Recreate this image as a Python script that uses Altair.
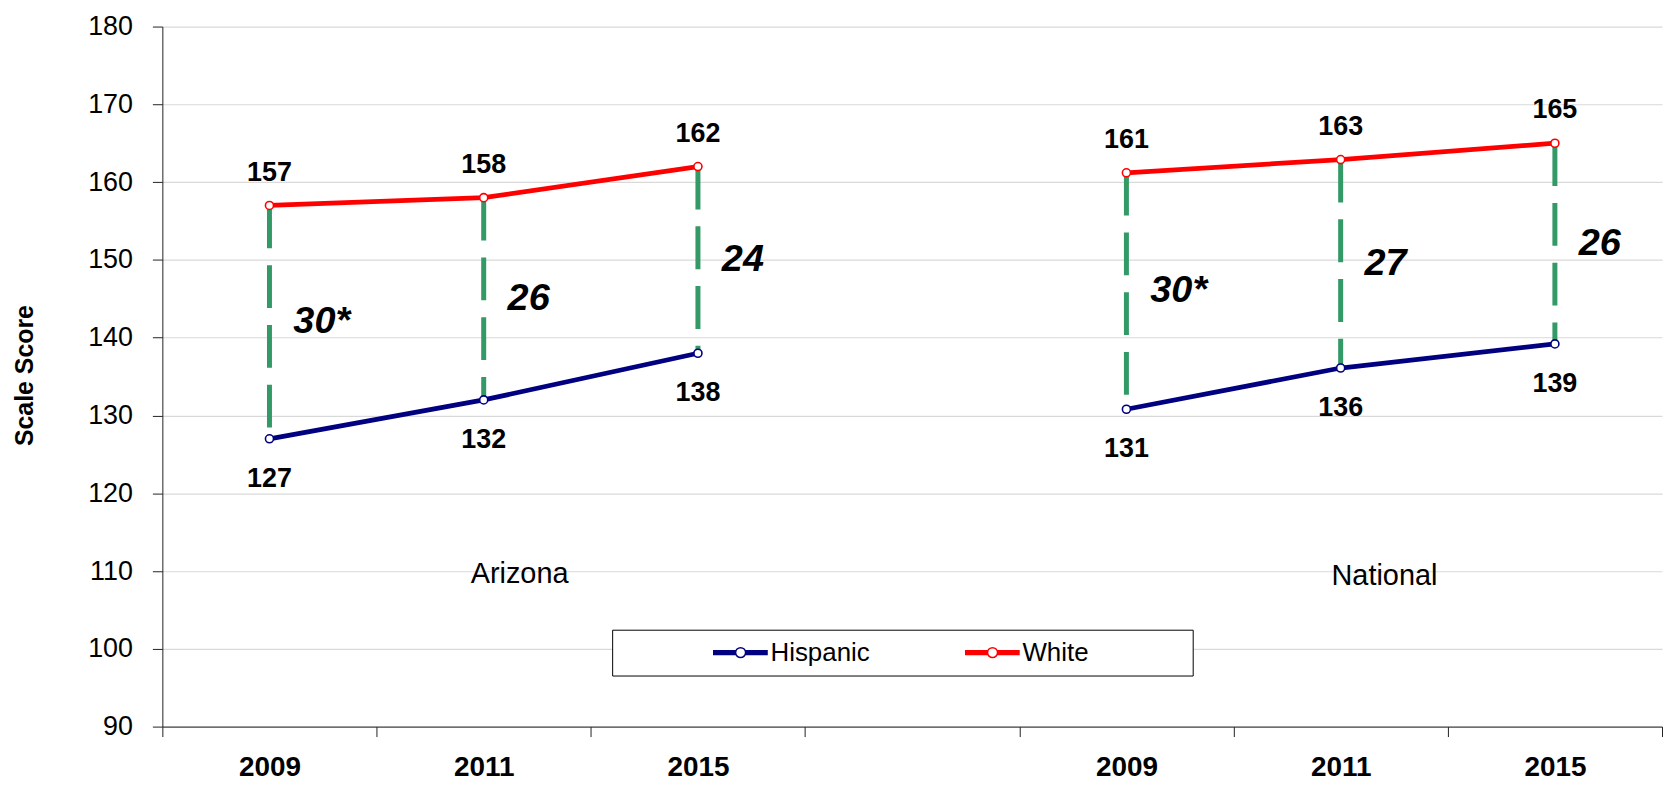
import altair as alt
import pandas as pd

# ---------------- data ----------------
years = ["2009", "2011", "2015"]
regions = ["Arizona", "National"]
series = ["Hispanic", "White"]
series_colors = ["#000080", "#ff0000"]

hispanic_az = [127, 132, 138]
white_az = [157, 158, 162]
hispanic_nat = [130.8, 136.1, 139.2]
white_nat = [161.2, 162.9, 165.0]
gap_az = ["30*", "26", "24"]
gap_nat = ["30*", "27", "26"]

y_ticks = [90, 100, 110, 120, 130, 140, 150, 160, 170, 180]

# x slots: Arizona years, an empty slot, National years
slots = [f"Arizona|{y}" for y in years] + ["gap"] + [f"National|{y}" for y in years]

wide_rows = []
long_rows = []
for region, hs, ws, gs in [("Arizona", hispanic_az, white_az, gap_az),
                           ("National", hispanic_nat, white_nat, gap_nat)]:
    for yr, h, w, g in zip(years, hs, ws, gs):
        slot = f"{region}|{yr}"
        wide_rows.append({"slot": slot, "region": region, "hispanic": h, "white": w,
                          "gap": g, "mid": (h + w) / 2})
        long_rows.append({"slot": slot, "region": region, "series": "Hispanic", "value": h})
        long_rows.append({"slot": slot, "region": region, "series": "White", "value": w})
wide = pd.DataFrame(wide_rows)
long = pd.DataFrame(long_rows)

region_label_df = pd.DataFrame({"slot": ["Arizona|2011", "National|2011"],
                                "region": regions,
                                "pos": [108.5, 108.2]})

# ---------------- styling ----------------
FONT = "Liberation Sans"

x_axis = alt.Axis(
    tickBand="extent", tickSize=10, labelPadding=17, labelAngle=0,
    labelFont=FONT, labelFontSize=28, labelFontWeight="bold", labelColor="#000",
    labelExpr="indexof(datum.label, '|') >= 0 ? split(datum.label, '|')[1] : ''",
    domainColor="#222", tickColor="#222", grid=False, title=None,
)
x_scale = alt.Scale(type="band", domain=slots, paddingInner=0, paddingOuter=0)

y_axis = alt.Axis(
    values=y_ticks, grid=True, gridColor="#d9d9d9", gridWidth=1.2,
    domainColor="#222", tickColor="#222", tickSize=10, labelPadding=20,
    labelFont=FONT, labelFontSize=27, labelColor="#000",
    title="Scale Score", titleFont=FONT, titleFontSize=25, titleFontWeight="bold",
    titleColor="#000", titleX=-138, titleY=350, titleAngle=270,
    titleBaseline="middle", titleAlign="center",
)
y_scale = alt.Scale(domain=[90, 180], nice=False, zero=False)


def X():
    return alt.X("slot:N", scale=x_scale, axis=x_axis, bandPosition=0.5)


def Y(field):
    return alt.Y(f"{field}:Q", scale=y_scale, axis=y_axis)


# legend symbol: thick line with an open circle in the middle
segs = []
for yy in ["-0.2", "-0.1", "0", "0.1", "0.2"]:
    segs.append(f"M7.83,{yy}L10.13,{yy}M11.07,{yy}L13.33,{yy}")
legend_path = "".join(segs) + "M10.1,0A0.5,0.5,0,1,0,11.1,0A0.5,0.5,0,1,0,10.1,0Z"

pad_right = "\u00a0" * 13 + "\u200b"
legend = alt.Legend(
    title=None, orient="none", legendX=451.7, legendY=605.7, direction="horizontal",
    symbolType=legend_path, symbolSize=400, symbolStrokeWidth=1.5,
    symbolFillColor="white", symbolOpacity=1,
    labelFont=FONT, labelFontSize=26, labelColor="#000", labelOffset=123, labelLimit=400,
    labelExpr=f"datum.label == 'White' ? 'White{pad_right}' : datum.label",
    columnPadding=4, padding=10, strokeColor="#000", fillColor="white",
)
color = alt.Color("series:N", scale=alt.Scale(domain=series, range=series_colors), legend=legend)

# ---------------- layers ----------------
lines = alt.Chart(long).mark_line().encode(
    x=X(), y=Y("value"), color=color, detail="region:N",
    strokeWidth=alt.value(4.8),
)

rules = alt.Chart(wide).mark_rule(strokeDash=[43, 17], color="#339966").encode(
    x=X(), y=Y("white"), y2="hispanic:Q", strokeWidth=alt.value(5),
)

points = alt.Chart(long).mark_point(shape="circle", filled=False, size=65).encode(
    x=X(), y=Y("value"), color=color,
    fill=alt.value("white"), strokeWidth=alt.value(1.6), opacity=alt.value(1),
)

white_labels = alt.Chart(long).transform_filter(alt.datum.series == "White").mark_text(
    font=FONT, fontSize=27, fontWeight="bold", color="#000", baseline="alphabetic", dy=-25,
).encode(x=X(), y=Y("value"), text=alt.Text("value:Q", format=".0f"))

hisp_labels = alt.Chart(long).transform_filter(alt.datum.series == "Hispanic").mark_text(
    font=FONT, fontSize=27, fontWeight="bold", color="#000", baseline="alphabetic", dy=48,
).encode(x=X(), y=Y("value"), text=alt.Text("value:Q", format=".0f"))

gap_text = alt.Chart(wide).mark_text(
    font=FONT, fontSize=38, fontWeight="bold", fontStyle="italic", color="#000",
    align="left", baseline="middle", dx=24,
).encode(x=X(), y=Y("mid"), text="gap:N")

region_offsets = {"Arizona": 36, "National": 44}
region_texts = []
for r in regions:
    region_texts.append(
        alt.Chart(region_label_df).transform_filter(alt.datum.region == r).mark_text(
            font=FONT, fontSize=29, color="#000", align="center", baseline="alphabetic",
            dx=region_offsets[r],
        ).encode(x=X(), y=Y("pos"), text="region:N")
    )

chart = alt.layer(lines, rules, points, white_labels, hisp_labels, gap_text, *region_texts).properties(
    width=1506, height=703,
    padding={"left": 155, "top": 17, "right": 3, "bottom": 56},
    autosize=alt.AutoSizeParams(type="none"),
).configure_view(stroke=None)

chart.save("out.html", embed_options={"renderer": "svg", "actions": False})
